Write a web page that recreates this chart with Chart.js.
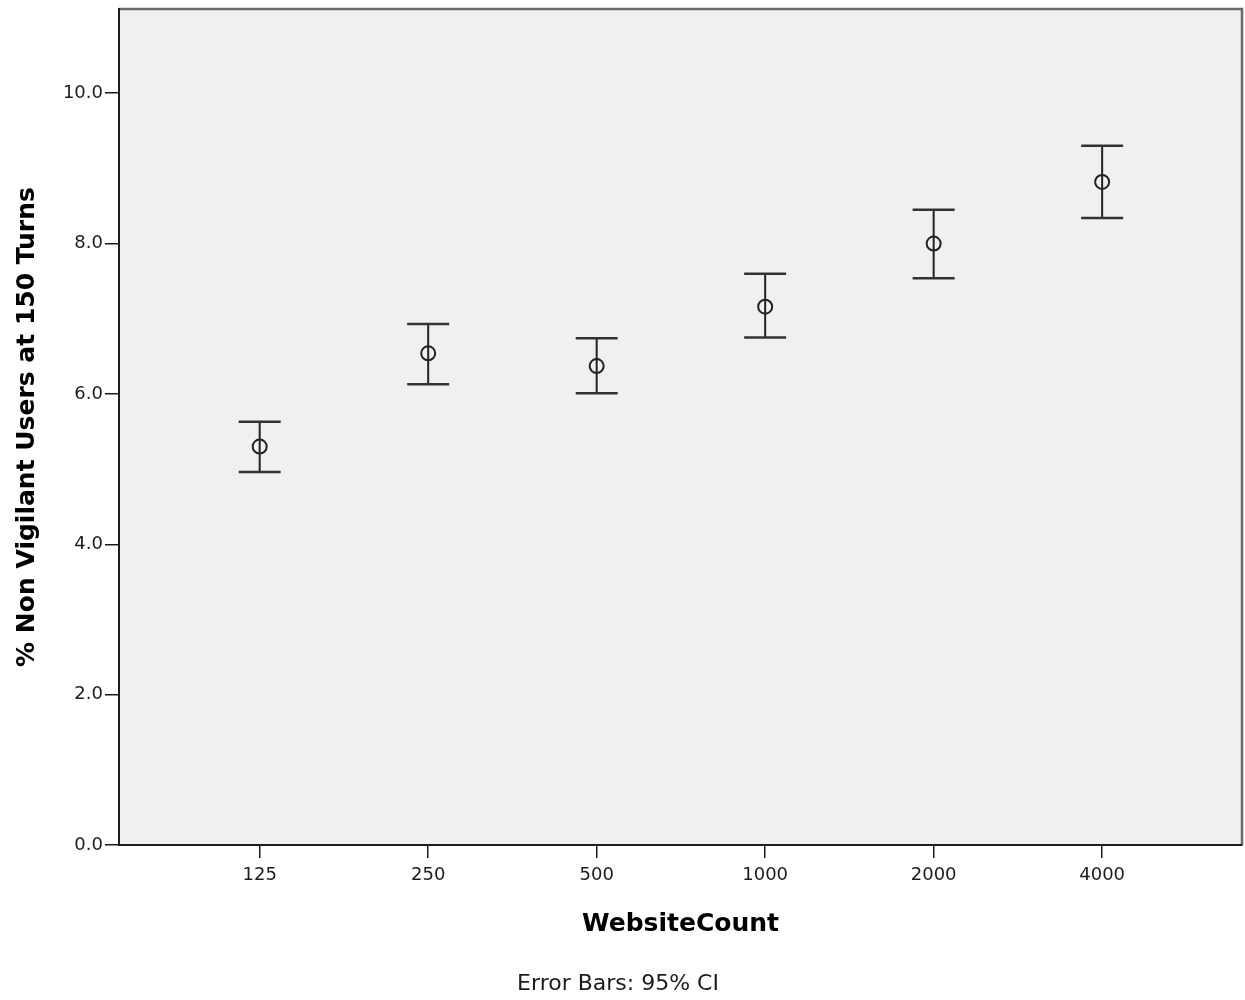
<!DOCTYPE html>
<html>
<head>
<meta charset="utf-8">
<title>WebsiteCount error bars</title>
<script src="https://cdn.jsdelivr.net/npm/chart.js@4.4.1/dist/chart.umd.min.js"></script>
<style>
  html, body { margin: 0; padding: 0; background: #fff; overflow: hidden; }
  canvas { display: block; }
</style>
</head>
<body>
<canvas id="chart" width="1245" height="1000"></canvas>
<script>
// values (95% CI around the mean)
const categories = ["125", "250", "500", "1000", "2000", "4000"];
const means = [5.30, 6.54, 6.37, 7.16, 8.00, 8.82];
const lower = [4.96, 6.13, 6.01, 6.75, 7.54, 8.34];
const upper = [5.63, 6.93, 6.74, 7.60, 8.45, 9.30];
const yTicks = [0, 2, 4, 6, 8, 10];

const FONT = "'DejaVu Sans', sans-serif";
const INK = "#1c1c1c";

// plot frame: grey background, grey top/right border
const framePlugin = {
  id: "frame",
  beforeDraw(chart) {
    const { ctx, chartArea: a } = chart;
    ctx.save();
    ctx.fillStyle = "#f0f0f0";
    ctx.fillRect(a.left, a.top, a.right - a.left, a.bottom - a.top);
    ctx.strokeStyle = "#6a6a6a";
    ctx.lineWidth = 2.5;
    ctx.beginPath();
    ctx.moveTo(a.left, a.top);
    ctx.lineTo(a.right, a.top);
    ctx.lineTo(a.right, a.bottom);
    ctx.stroke();
    ctx.restore();
  },
  afterDraw(chart) {
    const { ctx } = chart;
    ctx.save();
    ctx.fillStyle = INK;
    ctx.font = "22px " + FONT;
    ctx.textAlign = "center";
    ctx.textBaseline = "middle";
    ctx.fillText("Error Bars: 95% CI", 618, 984);
    ctx.restore();
  }
};

// whiskers and caps from the lower/upper arrays
const errorBarPlugin = {
  id: "errorBars",
  beforeDatasetsDraw(chart) {
    const { ctx, scales: { x, y } } = chart;
    const capHalf = 21;
    ctx.save();
    lower.forEach((lo, i) => {
      const px = x.getPixelForValue(i);
      const yLo = y.getPixelForValue(lo);
      const yHi = y.getPixelForValue(upper[i]);
      ctx.strokeStyle = "#222";
      ctx.lineWidth = 2;
      ctx.beginPath();
      ctx.moveTo(px, yLo);
      ctx.lineTo(px, yHi);
      ctx.stroke();
      ctx.strokeStyle = "#333";
      ctx.lineWidth = 2.5;
      ctx.beginPath();
      ctx.moveTo(px - capHalf, yLo);
      ctx.lineTo(px + capHalf, yLo);
      ctx.moveTo(px - capHalf, yHi);
      ctx.lineTo(px + capHalf, yHi);
      ctx.stroke();
    });
    ctx.restore();
  }
};

new Chart(document.getElementById("chart"), {
  type: "scatter",
  data: {
    datasets: [{
      data: means.map((m, i) => ({ x: i, y: m })),
      pointStyle: "circle",
      pointRadius: 7,
      pointHoverRadius: 7,
      pointBackgroundColor: "rgba(0,0,0,0)",
      pointBorderColor: "#222",
      pointBorderWidth: 2,
      showLine: false
    }]
  },
  options: {
    responsive: false,
    animation: false,
    events: [],
    layout: { autoPadding: false, padding: { top: 9, right: 3, left: 0, bottom: 0 } },
    plugins: {
      legend: { display: false },
      tooltip: { enabled: false }
    },
    scales: {
      x: {
        type: "linear",
        min: -0.835,
        max: 5.83,
        offset: false,
        afterFit(scale) {
          scale.height = 155;
          scale.paddingLeft = 0;
          scale.paddingRight = 0;
        },
        afterBuildTicks(scale) { scale.ticks = categories.map((c, i) => ({ value: i })); },
        grid: { drawOnChartArea: false, color: INK, tickLength: 13, lineWidth: 1.5 },
        border: { color: INK, width: 2 },
        ticks: {
          autoSkip: false,
          maxRotation: 0,
          padding: 7,
          color: INK,
          font: { family: FONT, size: 18 },
          callback: (v) => categories[v] ?? ""
        },
        title: {
          display: true,
          text: "WebsiteCount",
          color: "#000",
          font: { family: FONT, size: 25, weight: "bold" },
          padding: { top: 0, bottom: 61 }
        }
      },
      y: {
        min: 0,
        max: 11.12,
        afterFit(scale) {
          scale.width = 119;
          scale.paddingTop = 0;
          scale.paddingBottom = 0;
        },
        afterBuildTicks(scale) { scale.ticks = yTicks.map((v) => ({ value: v })); },
        grid: { drawOnChartArea: false, color: INK, tickLength: 14, lineWidth: 1.5 },
        border: { color: INK, width: 2 },
        ticks: {
          padding: 2,
          color: INK,
          font: { family: FONT, size: 18 },
          callback: (v) => Number(v).toFixed(1)
        },
        title: {
          display: true,
          text: "% Non Vigilant Users at 150 Turns",
          color: "#000",
          font: { family: FONT, size: 25, weight: "bold" },
          padding: { top: 12, bottom: 0 }
        }
      }
    }
  },
  plugins: [framePlugin, errorBarPlugin]
});
</script>
</body>
</html>
